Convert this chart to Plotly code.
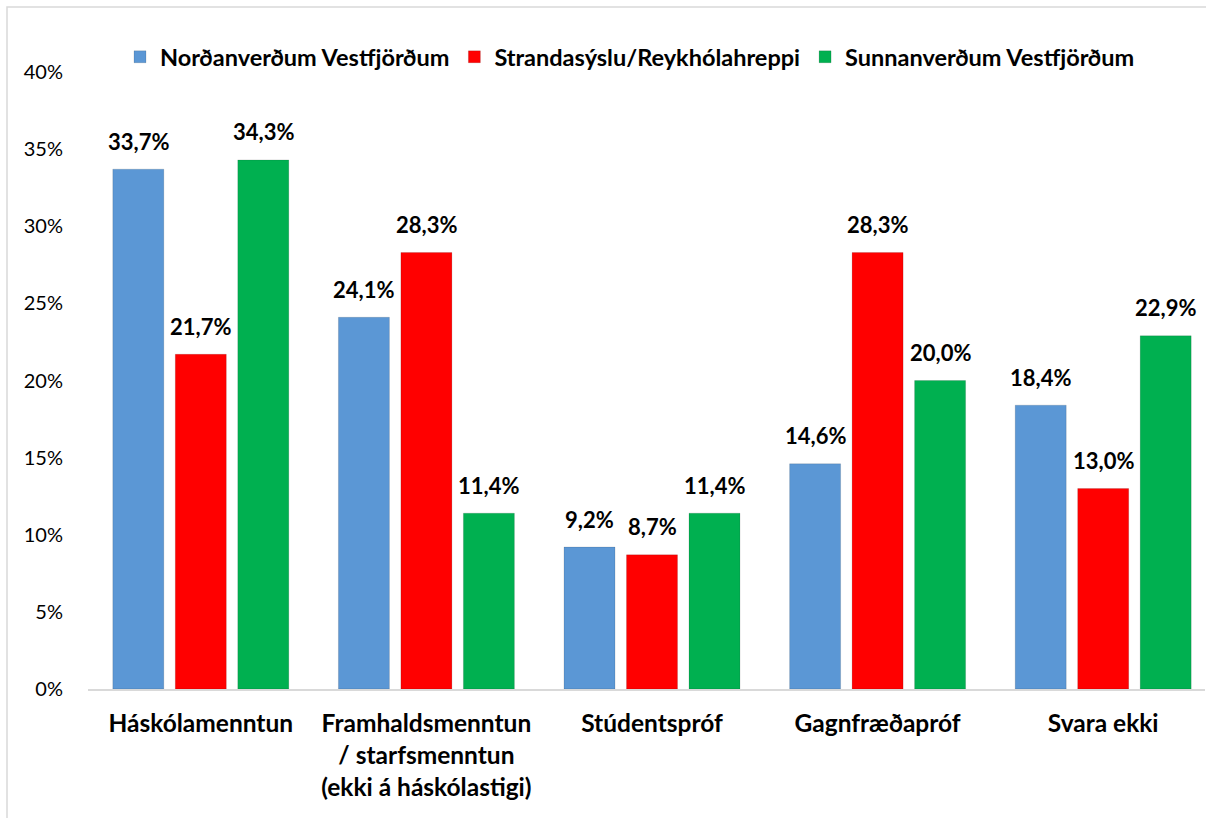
import plotly.graph_objects as go

categories = ["Háskólamenntun", "Framhaldsmenntun<br>/ starfsmenntun<br>(ekki á háskólastigi)",
              "Stúdentspróf", "Gagnfræðapróf", "Svara ekki"]
series_names = ["Norðanverðum Vestfjörðum", "Strandasýslu/Reykhólahreppi", "Sunnanverðum Vestfjörðum"]
nord = [33.7, 24.1, 9.2, 14.6, 18.4]
strand = [21.7, 28.3, 8.7, 28.3, 13.0]
sunn = [34.3, 11.4, 11.4, 20.0, 22.9]
colors = ["#5b97d5", "#ff0000", "#00b050"]
yticks = [0, 5, 10, 15, 20, 25, 30, 35, 40]
yticktext = [f"{t}%" for t in yticks]

W, H = 1206, 818
ML, MR, MT, MB = 88, 1, 72, 129
pw = W - ML - MR
ph = H - MT - MB
cat_px = 225.6
x_end = -0.5 + pw / cat_px

FONT = "Lato"
fig = go.Figure()
data = [nord, strand, sunn]
for name, vals, c in zip(series_names, data, colors):
    fig.add_trace(go.Bar(
        x=categories, y=vals, name=name,
        marker=dict(color=c, line=dict(color="rgba(0,0,0,0.12)", width=1)),
        hoverinfo="skip",
    ))

# data labels
slot_px = 62.5
for i, vals in enumerate(data):
    for cat, v in zip(categories, vals):
        fig.add_annotation(
            x=cat, y=v, xref="x", yref="y",
            text="<b>" + f"{v:.1f}".replace(".", ",") + "%</b>",
            showarrow=False, xshift=(i - 1) * slot_px, yshift=28,
            font=dict(family=FONT, size=22, color="#000"),
        )

# chart frame
fig.add_shape(type="rect", xref="paper", yref="paper",
              x0=(7 - ML) / pw, x1=(W + 20 - ML) / pw,
              y0=-(MB + 20) / ph, y1=1 + (MT - 7) / ph,
              line=dict(color="#d9d9d9", width=1.5), layer="below")

fig.update_layout(
    width=W, height=H,
    margin=dict(l=ML, r=MR, t=MT, b=MB, autoexpand=False),
    paper_bgcolor="white", plot_bgcolor="white",
    barmode="group", bargap=0.169, bargroupgap=0.184,
    font=dict(family=FONT, size=20, color="#000"),
    legend=dict(orientation="h", x=(630 - ML) / pw, xanchor="center",
                y=1 + 15 / ph, yanchor="middle",
                font=dict(family=FONT, size=23.5, color="#000", weight="bold"),
                itemwidth=30, tracegroupgap=0, bgcolor="rgba(0,0,0,0)"),
    xaxis=dict(range=[-0.5, x_end], showgrid=False, showline=True,
               linecolor="#d9d9d9", linewidth=2, ticks="outside", ticklen=12,
               tickcolor="rgba(0,0,0,0)",
               tickfont=dict(family=FONT, size=24.5, weight="bold"),
               fixedrange=True),
    yaxis=dict(range=[0, 40], tickvals=yticks, ticktext=yticktext, showgrid=False,
               showline=False, zeroline=False, ticks="outside", ticklen=20,
               tickcolor="rgba(0,0,0,0)",
               tickfont=dict(family=FONT, size=20), fixedrange=True),
)

fig.write_html("out.html", config={"displayModeBar": False},
               post_script="document.body.style.margin='0';")
